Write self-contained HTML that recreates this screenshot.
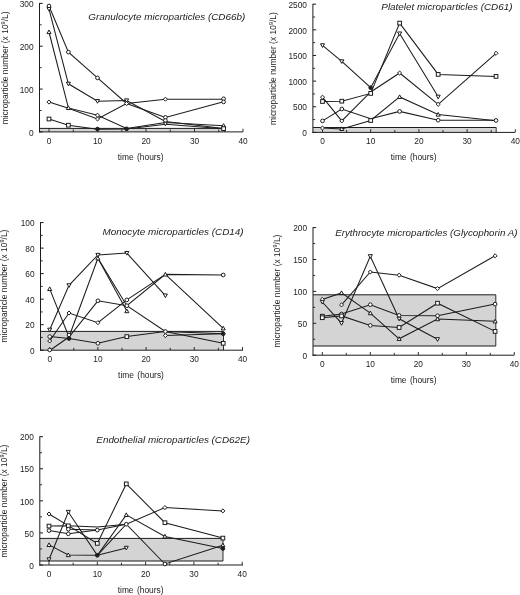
<!DOCTYPE html>
<html><head><meta charset="utf-8"><style>
html,body{margin:0;padding:0;background:#fff;}
body{width:520px;height:595px;overflow:hidden;}
svg{display:block;will-change:transform;filter:blur(0.35px);}
text{font-family:"Liberation Sans", sans-serif;fill:#222;-webkit-font-smoothing:antialiased;}
</style></head><body>
<svg width="520" height="595" viewBox="0 0 520 595">
<rect width="520" height="595" fill="#fff"/>
<rect x="39.50" y="128.40" width="185.10" height="3.50" fill="#d4d4d4" stroke="none"/>
<line x1="39.50" y1="128.40" x2="224.60" y2="128.40" stroke="#1c1c1c" stroke-width="1.0"/>
<line x1="224.60" y1="128.40" x2="224.60" y2="131.90" stroke="#1c1c1c" stroke-width="0.9"/>
<line x1="39.50" y1="3.00" x2="39.50" y2="132.40" stroke="#1c1c1c" stroke-width="1.0"/>
<line x1="39.00" y1="131.90" x2="243.00" y2="131.90" stroke="#1c1c1c" stroke-width="1.0"/>
<line x1="39.50" y1="131.90" x2="42.70" y2="131.90" stroke="#1c1c1c" stroke-width="1.0"/>
<text x="33.50" y="135.60" font-size="8.3" text-anchor="end" font-style="normal" >0</text>
<line x1="39.50" y1="89.07" x2="42.70" y2="89.07" stroke="#1c1c1c" stroke-width="1.0"/>
<text x="33.50" y="92.77" font-size="8.3" text-anchor="end" font-style="normal" >100</text>
<line x1="39.50" y1="46.23" x2="42.70" y2="46.23" stroke="#1c1c1c" stroke-width="1.0"/>
<text x="33.50" y="49.93" font-size="8.3" text-anchor="end" font-style="normal" >200</text>
<line x1="39.50" y1="3.40" x2="42.70" y2="3.40" stroke="#1c1c1c" stroke-width="1.0"/>
<text x="33.50" y="7.10" font-size="8.3" text-anchor="end" font-style="normal" >300</text>
<line x1="39.50" y1="110.48" x2="41.70" y2="110.48" stroke="#1c1c1c" stroke-width="0.9"/>
<line x1="39.50" y1="67.65" x2="41.70" y2="67.65" stroke="#1c1c1c" stroke-width="0.9"/>
<line x1="39.50" y1="24.82" x2="41.70" y2="24.82" stroke="#1c1c1c" stroke-width="0.9"/>
<line x1="49.00" y1="131.90" x2="49.00" y2="128.70" stroke="#1c1c1c" stroke-width="0.9"/>
<text x="49.00" y="143.80" font-size="8.3" text-anchor="middle" font-style="normal" >0</text>
<line x1="73.25" y1="131.90" x2="73.25" y2="129.50" stroke="#1c1c1c" stroke-width="0.9"/>
<line x1="97.50" y1="131.90" x2="97.50" y2="128.70" stroke="#1c1c1c" stroke-width="0.9"/>
<text x="97.50" y="143.80" font-size="8.3" text-anchor="middle" font-style="normal" >10</text>
<line x1="121.75" y1="131.90" x2="121.75" y2="129.50" stroke="#1c1c1c" stroke-width="0.9"/>
<line x1="146.00" y1="131.90" x2="146.00" y2="128.70" stroke="#1c1c1c" stroke-width="0.9"/>
<text x="146.00" y="143.80" font-size="8.3" text-anchor="middle" font-style="normal" >20</text>
<line x1="170.25" y1="131.90" x2="170.25" y2="129.50" stroke="#1c1c1c" stroke-width="0.9"/>
<line x1="194.50" y1="131.90" x2="194.50" y2="128.70" stroke="#1c1c1c" stroke-width="0.9"/>
<text x="194.50" y="143.80" font-size="8.3" text-anchor="middle" font-style="normal" >30</text>
<line x1="218.75" y1="131.90" x2="218.75" y2="129.50" stroke="#1c1c1c" stroke-width="0.9"/>
<line x1="243.00" y1="131.90" x2="243.00" y2="128.70" stroke="#1c1c1c" stroke-width="0.9"/>
<text x="243.00" y="143.80" font-size="8.3" text-anchor="middle" font-style="normal" >40</text>
<polyline points="49.00,6.00 68.40,52.10 97.50,77.90 126.60,103.50 165.40,117.40 223.60,101.80" fill="none" stroke="#1c1c1c" stroke-width="1.05"/>
<polyline points="49.00,9.10 68.40,83.80 97.50,101.20 126.60,100.50 165.40,121.40 223.60,128.50" fill="none" stroke="#1c1c1c" stroke-width="1.05"/>
<polyline points="49.00,32.00 68.40,107.90 97.50,115.20 126.60,128.50 165.40,122.50 223.60,125.70" fill="none" stroke="#1c1c1c" stroke-width="1.05"/>
<polyline points="49.00,102.10 68.40,108.30 97.50,119.00 126.60,103.50 165.40,99.20 223.60,99.20" fill="none" stroke="#1c1c1c" stroke-width="1.05"/>
<polyline points="49.00,119.00 68.40,125.20 97.50,129.20 126.60,129.00 165.40,124.20 223.60,128.80" fill="none" stroke="#1c1c1c" stroke-width="1.05"/>
<circle cx="49.00" cy="6.00" r="1.85" fill="#fff" stroke="#1c1c1c" stroke-width="1.0"/>
<path d="M49.00,11.13L51.03,7.47L46.97,7.47Z" fill="#fff" stroke="#1c1c1c" stroke-width="1.0"/>
<path d="M49.00,29.96L51.03,33.63L46.97,33.63Z" fill="#fff" stroke="#1c1c1c" stroke-width="1.0"/>
<path d="M49.00,100.06L51.03,102.10L49.00,104.13L46.97,102.10Z" fill="#fff" stroke="#1c1c1c" stroke-width="1.0"/>
<rect x="47.15" y="117.15" width="3.7" height="3.7" fill="#fff" stroke="#1c1c1c" stroke-width="1.0"/>
<circle cx="68.40" cy="52.10" r="1.85" fill="#fff" stroke="#1c1c1c" stroke-width="1.0"/>
<path d="M68.40,85.83L70.44,82.17L66.37,82.17Z" fill="#fff" stroke="#1c1c1c" stroke-width="1.0"/>
<path d="M68.40,105.87L70.44,109.53L66.37,109.53Z" fill="#fff" stroke="#1c1c1c" stroke-width="1.0"/>
<rect x="66.55" y="123.35" width="3.7" height="3.7" fill="#fff" stroke="#1c1c1c" stroke-width="1.0"/>
<circle cx="97.50" cy="77.90" r="1.85" fill="#fff" stroke="#1c1c1c" stroke-width="1.0"/>
<path d="M97.50,103.23L99.53,99.57L95.47,99.57Z" fill="#fff" stroke="#1c1c1c" stroke-width="1.0"/>
<path d="M97.50,113.17L99.53,115.20L97.50,117.23L95.47,115.20Z" fill="#fff" stroke="#1c1c1c" stroke-width="1.0"/>
<path d="M97.50,116.97L99.53,119.00L97.50,121.03L95.47,119.00Z" fill="#fff" stroke="#1c1c1c" stroke-width="1.0"/>
<circle cx="97.50" cy="129.00" r="1.85" fill="#1c1c1c" stroke="#1c1c1c" stroke-width="1.0"/>
<path d="M126.60,102.53L128.63,98.87L124.56,98.87Z" fill="#fff" stroke="#1c1c1c" stroke-width="1.0"/>
<path d="M126.60,101.47L128.63,103.50L126.60,105.53L124.56,103.50Z" fill="#fff" stroke="#1c1c1c" stroke-width="1.0"/>
<circle cx="126.60" cy="128.80" r="1.85" fill="#1c1c1c" stroke="#1c1c1c" stroke-width="1.0"/>
<path d="M165.40,97.17L167.43,99.20L165.40,101.23L163.36,99.20Z" fill="#fff" stroke="#1c1c1c" stroke-width="1.0"/>
<circle cx="165.40" cy="117.40" r="1.85" fill="#fff" stroke="#1c1c1c" stroke-width="1.0"/>
<circle cx="165.40" cy="120.50" r="1.85" fill="#fff" stroke="#1c1c1c" stroke-width="1.0"/>
<path d="M165.40,125.83L167.43,122.17L163.36,122.17Z" fill="#fff" stroke="#1c1c1c" stroke-width="1.0"/>
<circle cx="223.60" cy="98.80" r="1.85" fill="#fff" stroke="#1c1c1c" stroke-width="1.0"/>
<circle cx="223.60" cy="101.90" r="1.85" fill="#fff" stroke="#1c1c1c" stroke-width="1.0"/>
<path d="M223.60,123.67L225.63,127.33L221.56,127.33Z" fill="#fff" stroke="#1c1c1c" stroke-width="1.0"/>
<rect x="221.75" y="126.75" width="3.7" height="3.7" fill="#fff" stroke="#1c1c1c" stroke-width="1.0"/>
<text x="88.30" y="20.00" font-size="9.9" text-anchor="start" font-style="italic" >Granulocyte microparticles (CD66b)</text>
<text x="140.70" y="159.80" font-size="8.4" text-anchor="middle" font-style="normal" word-spacing="1.1">time (hours)</text>
<text transform="translate(7.50,67.90) rotate(-90)" font-size="8.45" text-anchor="middle">microparticle number (x 10<tspan font-size="5.5" dy="-3">9</tspan><tspan dy="3">/L)</tspan></text>
<rect x="312.90" y="127.50" width="183.30" height="4.90" fill="#d4d4d4" stroke="none"/>
<line x1="312.90" y1="127.50" x2="496.20" y2="127.50" stroke="#1c1c1c" stroke-width="1.0"/>
<line x1="496.20" y1="127.50" x2="496.20" y2="132.40" stroke="#1c1c1c" stroke-width="0.9"/>
<line x1="312.90" y1="3.80" x2="312.90" y2="132.90" stroke="#1c1c1c" stroke-width="1.0"/>
<line x1="312.40" y1="132.40" x2="515.00" y2="132.40" stroke="#1c1c1c" stroke-width="1.0"/>
<line x1="312.90" y1="132.40" x2="316.10" y2="132.40" stroke="#1c1c1c" stroke-width="1.0"/>
<text x="306.90" y="136.10" font-size="8.3" text-anchor="end" font-style="normal" >0</text>
<line x1="312.90" y1="106.76" x2="316.10" y2="106.76" stroke="#1c1c1c" stroke-width="1.0"/>
<text x="306.90" y="110.46" font-size="8.3" text-anchor="end" font-style="normal" >500</text>
<line x1="312.90" y1="81.12" x2="316.10" y2="81.12" stroke="#1c1c1c" stroke-width="1.0"/>
<text x="306.90" y="84.82" font-size="8.3" text-anchor="end" font-style="normal" >1000</text>
<line x1="312.90" y1="55.48" x2="316.10" y2="55.48" stroke="#1c1c1c" stroke-width="1.0"/>
<text x="306.90" y="59.18" font-size="8.3" text-anchor="end" font-style="normal" >1500</text>
<line x1="312.90" y1="29.84" x2="316.10" y2="29.84" stroke="#1c1c1c" stroke-width="1.0"/>
<text x="306.90" y="33.54" font-size="8.3" text-anchor="end" font-style="normal" >2000</text>
<line x1="312.90" y1="4.20" x2="316.10" y2="4.20" stroke="#1c1c1c" stroke-width="1.0"/>
<text x="306.90" y="7.90" font-size="8.3" text-anchor="end" font-style="normal" >2500</text>
<line x1="312.90" y1="119.58" x2="315.10" y2="119.58" stroke="#1c1c1c" stroke-width="0.9"/>
<line x1="312.90" y1="93.94" x2="315.10" y2="93.94" stroke="#1c1c1c" stroke-width="0.9"/>
<line x1="312.90" y1="68.30" x2="315.10" y2="68.30" stroke="#1c1c1c" stroke-width="0.9"/>
<line x1="312.90" y1="42.66" x2="315.10" y2="42.66" stroke="#1c1c1c" stroke-width="0.9"/>
<line x1="312.90" y1="17.02" x2="315.10" y2="17.02" stroke="#1c1c1c" stroke-width="0.9"/>
<line x1="322.50" y1="132.40" x2="322.50" y2="129.20" stroke="#1c1c1c" stroke-width="0.9"/>
<text x="322.50" y="144.30" font-size="8.3" text-anchor="middle" font-style="normal" >0</text>
<line x1="346.60" y1="132.40" x2="346.60" y2="130.00" stroke="#1c1c1c" stroke-width="0.9"/>
<line x1="370.70" y1="132.40" x2="370.70" y2="129.20" stroke="#1c1c1c" stroke-width="0.9"/>
<text x="370.70" y="144.30" font-size="8.3" text-anchor="middle" font-style="normal" >10</text>
<line x1="394.80" y1="132.40" x2="394.80" y2="130.00" stroke="#1c1c1c" stroke-width="0.9"/>
<line x1="418.90" y1="132.40" x2="418.90" y2="129.20" stroke="#1c1c1c" stroke-width="0.9"/>
<text x="418.90" y="144.30" font-size="8.3" text-anchor="middle" font-style="normal" >20</text>
<line x1="443.00" y1="132.40" x2="443.00" y2="130.00" stroke="#1c1c1c" stroke-width="0.9"/>
<line x1="467.10" y1="132.40" x2="467.10" y2="129.20" stroke="#1c1c1c" stroke-width="0.9"/>
<text x="467.10" y="144.30" font-size="8.3" text-anchor="middle" font-style="normal" >30</text>
<line x1="491.20" y1="132.40" x2="491.20" y2="130.00" stroke="#1c1c1c" stroke-width="0.9"/>
<line x1="515.30" y1="132.40" x2="515.30" y2="129.20" stroke="#1c1c1c" stroke-width="0.9"/>
<text x="515.30" y="144.30" font-size="8.3" text-anchor="middle" font-style="normal" >40</text>
<polyline points="322.50,45.40 341.78,61.40 370.70,87.70 399.62,33.60 438.18,96.80" fill="none" stroke="#1c1c1c" stroke-width="1.05"/>
<polyline points="322.50,101.50 341.78,101.20 370.70,93.40 399.62,23.10 438.18,74.40 496.02,76.40" fill="none" stroke="#1c1c1c" stroke-width="1.05"/>
<polyline points="322.50,97.20 341.78,120.90 370.70,92.00 399.62,73.00 438.18,104.30 496.02,53.30" fill="none" stroke="#1c1c1c" stroke-width="1.05"/>
<polyline points="322.50,120.90 341.78,109.00 370.70,118.80 399.62,111.40 438.18,120.20 496.02,120.20" fill="none" stroke="#1c1c1c" stroke-width="1.05"/>
<polyline points="322.50,128.00 341.78,128.90 370.70,120.50 399.62,96.90 438.18,114.50 496.02,120.80" fill="none" stroke="#1c1c1c" stroke-width="1.05"/>
<path d="M322.50,47.44L324.54,43.77L320.46,43.77Z" fill="#fff" stroke="#1c1c1c" stroke-width="1.0"/>
<rect x="320.65" y="99.65" width="3.7" height="3.7" fill="#fff" stroke="#1c1c1c" stroke-width="1.0"/>
<path d="M322.50,95.17L324.54,97.20L322.50,99.23L320.46,97.20Z" fill="#fff" stroke="#1c1c1c" stroke-width="1.0"/>
<circle cx="322.50" cy="120.90" r="1.85" fill="#fff" stroke="#1c1c1c" stroke-width="1.0"/>
<path d="M322.50,125.97L324.54,128.00L322.50,130.03L320.46,128.00Z" fill="#fff" stroke="#1c1c1c" stroke-width="1.0"/>
<path d="M341.78,63.44L343.81,59.77L339.74,59.77Z" fill="#fff" stroke="#1c1c1c" stroke-width="1.0"/>
<rect x="339.93" y="99.35" width="3.7" height="3.7" fill="#fff" stroke="#1c1c1c" stroke-width="1.0"/>
<circle cx="341.78" cy="109.00" r="1.85" fill="#fff" stroke="#1c1c1c" stroke-width="1.0"/>
<path d="M341.78,118.87L343.81,120.90L341.78,122.94L339.74,120.90Z" fill="#fff" stroke="#1c1c1c" stroke-width="1.0"/>
<path d="M341.78,126.87L343.81,130.53L339.74,130.53Z" fill="#fff" stroke="#1c1c1c" stroke-width="1.0"/>
<circle cx="370.70" cy="87.70" r="1.85" fill="#1c1c1c" stroke="#1c1c1c" stroke-width="1.0"/>
<rect x="368.85" y="91.55" width="3.7" height="3.7" fill="#fff" stroke="#1c1c1c" stroke-width="1.0"/>
<rect x="368.85" y="118.65" width="3.7" height="3.7" fill="#fff" stroke="#1c1c1c" stroke-width="1.0"/>
<rect x="397.77" y="21.25" width="3.7" height="3.7" fill="#fff" stroke="#1c1c1c" stroke-width="1.0"/>
<path d="M399.62,35.64L401.66,31.97L397.58,31.97Z" fill="#fff" stroke="#1c1c1c" stroke-width="1.0"/>
<path d="M399.62,70.97L401.66,73.00L399.62,75.03L397.58,73.00Z" fill="#fff" stroke="#1c1c1c" stroke-width="1.0"/>
<path d="M399.62,94.87L401.66,98.53L397.58,98.53Z" fill="#fff" stroke="#1c1c1c" stroke-width="1.0"/>
<circle cx="399.62" cy="111.40" r="1.85" fill="#fff" stroke="#1c1c1c" stroke-width="1.0"/>
<rect x="436.33" y="72.55" width="3.7" height="3.7" fill="#fff" stroke="#1c1c1c" stroke-width="1.0"/>
<path d="M438.18,98.83L440.22,95.17L436.14,95.17Z" fill="#fff" stroke="#1c1c1c" stroke-width="1.0"/>
<path d="M438.18,102.27L440.22,104.30L438.18,106.33L436.14,104.30Z" fill="#fff" stroke="#1c1c1c" stroke-width="1.0"/>
<path d="M438.18,112.47L440.22,116.13L436.14,116.13Z" fill="#fff" stroke="#1c1c1c" stroke-width="1.0"/>
<circle cx="438.18" cy="120.20" r="1.85" fill="#fff" stroke="#1c1c1c" stroke-width="1.0"/>
<path d="M496.02,51.27L498.06,53.30L496.02,55.33L493.98,53.30Z" fill="#fff" stroke="#1c1c1c" stroke-width="1.0"/>
<rect x="494.17" y="74.55" width="3.7" height="3.7" fill="#fff" stroke="#1c1c1c" stroke-width="1.0"/>
<circle cx="496.02" cy="120.50" r="1.85" fill="#fff" stroke="#1c1c1c" stroke-width="1.0"/>
<text x="381.30" y="10.40" font-size="9.9" text-anchor="start" font-style="italic" >Platelet microparticles (CD61)</text>
<text x="413.60" y="159.80" font-size="8.4" text-anchor="middle" font-style="normal" word-spacing="1.1">time (hours)</text>
<text transform="translate(275.70,68.60) rotate(-90)" font-size="8.45" text-anchor="middle">microparticle number (x 10<tspan font-size="5.5" dy="-3">9</tspan><tspan dy="3">/L)</tspan></text>
<rect x="40.50" y="331.40" width="183.00" height="18.80" fill="#d4d4d4" stroke="none"/>
<line x1="40.50" y1="331.40" x2="223.50" y2="331.40" stroke="#1c1c1c" stroke-width="1.0"/>
<line x1="223.50" y1="331.40" x2="223.50" y2="350.20" stroke="#1c1c1c" stroke-width="0.9"/>
<line x1="40.50" y1="222.20" x2="40.50" y2="350.70" stroke="#1c1c1c" stroke-width="1.0"/>
<line x1="40.00" y1="350.20" x2="243.00" y2="350.20" stroke="#1c1c1c" stroke-width="1.0"/>
<line x1="40.50" y1="350.20" x2="43.70" y2="350.20" stroke="#1c1c1c" stroke-width="1.0"/>
<text x="34.50" y="353.90" font-size="8.3" text-anchor="end" font-style="normal" >0</text>
<line x1="40.50" y1="324.68" x2="43.70" y2="324.68" stroke="#1c1c1c" stroke-width="1.0"/>
<text x="34.50" y="328.38" font-size="8.3" text-anchor="end" font-style="normal" >20</text>
<line x1="40.50" y1="299.16" x2="43.70" y2="299.16" stroke="#1c1c1c" stroke-width="1.0"/>
<text x="34.50" y="302.86" font-size="8.3" text-anchor="end" font-style="normal" >40</text>
<line x1="40.50" y1="273.64" x2="43.70" y2="273.64" stroke="#1c1c1c" stroke-width="1.0"/>
<text x="34.50" y="277.34" font-size="8.3" text-anchor="end" font-style="normal" >60</text>
<line x1="40.50" y1="248.12" x2="43.70" y2="248.12" stroke="#1c1c1c" stroke-width="1.0"/>
<text x="34.50" y="251.82" font-size="8.3" text-anchor="end" font-style="normal" >80</text>
<line x1="40.50" y1="222.60" x2="43.70" y2="222.60" stroke="#1c1c1c" stroke-width="1.0"/>
<text x="34.50" y="226.30" font-size="8.3" text-anchor="end" font-style="normal" >100</text>
<line x1="40.50" y1="337.44" x2="42.70" y2="337.44" stroke="#1c1c1c" stroke-width="0.9"/>
<line x1="40.50" y1="311.92" x2="42.70" y2="311.92" stroke="#1c1c1c" stroke-width="0.9"/>
<line x1="40.50" y1="286.40" x2="42.70" y2="286.40" stroke="#1c1c1c" stroke-width="0.9"/>
<line x1="40.50" y1="260.88" x2="42.70" y2="260.88" stroke="#1c1c1c" stroke-width="0.9"/>
<line x1="40.50" y1="235.36" x2="42.70" y2="235.36" stroke="#1c1c1c" stroke-width="0.9"/>
<line x1="49.70" y1="350.20" x2="49.70" y2="347.00" stroke="#1c1c1c" stroke-width="0.9"/>
<text x="49.70" y="362.10" font-size="8.3" text-anchor="middle" font-style="normal" >0</text>
<line x1="73.80" y1="350.20" x2="73.80" y2="347.80" stroke="#1c1c1c" stroke-width="0.9"/>
<line x1="97.90" y1="350.20" x2="97.90" y2="347.00" stroke="#1c1c1c" stroke-width="0.9"/>
<text x="97.90" y="362.10" font-size="8.3" text-anchor="middle" font-style="normal" >10</text>
<line x1="122.00" y1="350.20" x2="122.00" y2="347.80" stroke="#1c1c1c" stroke-width="0.9"/>
<line x1="146.10" y1="350.20" x2="146.10" y2="347.00" stroke="#1c1c1c" stroke-width="0.9"/>
<text x="146.10" y="362.10" font-size="8.3" text-anchor="middle" font-style="normal" >20</text>
<line x1="170.20" y1="350.20" x2="170.20" y2="347.80" stroke="#1c1c1c" stroke-width="0.9"/>
<line x1="194.30" y1="350.20" x2="194.30" y2="347.00" stroke="#1c1c1c" stroke-width="0.9"/>
<text x="194.30" y="362.10" font-size="8.3" text-anchor="middle" font-style="normal" >30</text>
<line x1="218.40" y1="350.20" x2="218.40" y2="347.80" stroke="#1c1c1c" stroke-width="0.9"/>
<line x1="242.50" y1="350.20" x2="242.50" y2="347.00" stroke="#1c1c1c" stroke-width="0.9"/>
<text x="242.50" y="362.10" font-size="8.3" text-anchor="middle" font-style="normal" >40</text>
<polyline points="49.70,288.90 68.98,337.00 97.90,258.30 126.82,305.70 165.38,331.50 223.22,343.30" fill="none" stroke="#1c1c1c" stroke-width="1.05"/>
<polyline points="49.70,329.80 68.98,285.40 97.90,255.00 126.82,253.10 165.38,295.60" fill="none" stroke="#1c1c1c" stroke-width="1.05"/>
<polyline points="49.70,350.50 68.98,337.00 97.90,300.80 126.82,305.70 165.38,274.40 223.22,275.00" fill="none" stroke="#1c1c1c" stroke-width="1.05"/>
<polyline points="49.70,341.00 68.98,313.00 97.90,322.70 126.82,299.90 165.38,274.40 223.22,328.30" fill="none" stroke="#1c1c1c" stroke-width="1.05"/>
<polyline points="49.70,336.60 68.98,338.50 97.90,343.30 126.82,336.60 165.38,331.50 223.22,333.70" fill="none" stroke="#1c1c1c" stroke-width="1.05"/>
<polyline points="97.90,258.30 126.82,311.10" fill="none" stroke="#1c1c1c" stroke-width="1.05"/>
<polyline points="165.38,335.60 223.22,333.70" fill="none" stroke="#1c1c1c" stroke-width="1.05"/>
<path d="M49.70,286.86L51.73,290.53L47.67,290.53Z" fill="#fff" stroke="#1c1c1c" stroke-width="1.0"/>
<path d="M49.70,331.84L51.73,328.17L47.67,328.17Z" fill="#fff" stroke="#1c1c1c" stroke-width="1.0"/>
<circle cx="49.70" cy="336.60" r="1.85" fill="#fff" stroke="#1c1c1c" stroke-width="1.0"/>
<path d="M49.70,338.96L51.73,341.00L49.70,343.04L47.67,341.00Z" fill="#fff" stroke="#1c1c1c" stroke-width="1.0"/>
<circle cx="49.70" cy="350.00" r="1.85" fill="#fff" stroke="#1c1c1c" stroke-width="1.0"/>
<path d="M68.98,287.44L71.02,283.77L66.95,283.77Z" fill="#fff" stroke="#1c1c1c" stroke-width="1.0"/>
<path d="M68.98,310.96L71.02,313.00L68.98,315.04L66.95,313.00Z" fill="#fff" stroke="#1c1c1c" stroke-width="1.0"/>
<circle cx="68.98" cy="335.00" r="1.85" fill="#fff" stroke="#1c1c1c" stroke-width="1.0"/>
<circle cx="68.98" cy="338.50" r="1.85" fill="#1c1c1c" stroke="#1c1c1c" stroke-width="1.0"/>
<path d="M97.90,257.04L99.94,253.37L95.87,253.37Z" fill="#fff" stroke="#1c1c1c" stroke-width="1.0"/>
<path d="M97.90,256.26L99.94,259.93L95.87,259.93Z" fill="#fff" stroke="#1c1c1c" stroke-width="1.0"/>
<circle cx="97.90" cy="300.80" r="1.85" fill="#fff" stroke="#1c1c1c" stroke-width="1.0"/>
<path d="M97.90,320.66L99.94,322.70L97.90,324.74L95.87,322.70Z" fill="#fff" stroke="#1c1c1c" stroke-width="1.0"/>
<circle cx="97.90" cy="343.30" r="1.85" fill="#fff" stroke="#1c1c1c" stroke-width="1.0"/>
<path d="M126.82,255.13L128.86,251.47L124.79,251.47Z" fill="#fff" stroke="#1c1c1c" stroke-width="1.0"/>
<circle cx="126.82" cy="299.90" r="1.85" fill="#fff" stroke="#1c1c1c" stroke-width="1.0"/>
<circle cx="126.82" cy="305.70" r="1.85" fill="#fff" stroke="#1c1c1c" stroke-width="1.0"/>
<path d="M126.82,309.06L128.86,312.73L124.79,312.73Z" fill="#fff" stroke="#1c1c1c" stroke-width="1.0"/>
<rect x="124.97" y="334.75" width="3.7" height="3.7" fill="#fff" stroke="#1c1c1c" stroke-width="1.0"/>
<path d="M165.38,272.36L167.41,276.03L163.34,276.03Z" fill="#fff" stroke="#1c1c1c" stroke-width="1.0"/>
<path d="M165.38,297.64L167.41,293.97L163.34,293.97Z" fill="#fff" stroke="#1c1c1c" stroke-width="1.0"/>
<circle cx="165.38" cy="331.50" r="1.85" fill="#fff" stroke="#1c1c1c" stroke-width="1.0"/>
<path d="M165.38,333.56L167.41,335.60L165.38,337.64L163.34,335.60Z" fill="#fff" stroke="#1c1c1c" stroke-width="1.0"/>
<circle cx="223.22" cy="275.00" r="1.85" fill="#fff" stroke="#1c1c1c" stroke-width="1.0"/>
<path d="M223.22,326.26L225.26,329.93L221.19,329.93Z" fill="#fff" stroke="#1c1c1c" stroke-width="1.0"/>
<circle cx="223.22" cy="333.70" r="1.85" fill="#1c1c1c" stroke="#1c1c1c" stroke-width="1.0"/>
<rect x="221.37" y="341.45" width="3.7" height="3.7" fill="#fff" stroke="#1c1c1c" stroke-width="1.0"/>
<text x="102.50" y="234.80" font-size="9.9" text-anchor="start" font-style="italic" >Monocyte microparticles (CD14)</text>
<text x="141.00" y="377.80" font-size="8.4" text-anchor="middle" font-style="normal" word-spacing="1.1">time (hours)</text>
<text transform="translate(6.90,286.00) rotate(-90)" font-size="8.45" text-anchor="middle">microparticle number (x 10<tspan font-size="5.5" dy="-3">9</tspan><tspan dy="3">/L)</tspan></text>
<rect x="313.00" y="294.80" width="182.80" height="51.20" fill="#d4d4d4" stroke="none"/>
<line x1="313.00" y1="294.80" x2="495.80" y2="294.80" stroke="#1c1c1c" stroke-width="1.0"/>
<line x1="313.00" y1="346.00" x2="495.80" y2="346.00" stroke="#1c1c1c" stroke-width="1.0"/>
<line x1="495.80" y1="294.80" x2="495.80" y2="346.00" stroke="#1c1c1c" stroke-width="0.9"/>
<line x1="313.00" y1="227.20" x2="313.00" y2="355.70" stroke="#1c1c1c" stroke-width="1.0"/>
<line x1="312.50" y1="355.20" x2="514.00" y2="355.20" stroke="#1c1c1c" stroke-width="1.0"/>
<line x1="313.00" y1="355.20" x2="316.20" y2="355.20" stroke="#1c1c1c" stroke-width="1.0"/>
<text x="307.00" y="358.90" font-size="8.3" text-anchor="end" font-style="normal" >0</text>
<line x1="313.00" y1="323.30" x2="316.20" y2="323.30" stroke="#1c1c1c" stroke-width="1.0"/>
<text x="307.00" y="327.00" font-size="8.3" text-anchor="end" font-style="normal" >50</text>
<line x1="313.00" y1="291.40" x2="316.20" y2="291.40" stroke="#1c1c1c" stroke-width="1.0"/>
<text x="307.00" y="295.10" font-size="8.3" text-anchor="end" font-style="normal" >100</text>
<line x1="313.00" y1="259.50" x2="316.20" y2="259.50" stroke="#1c1c1c" stroke-width="1.0"/>
<text x="307.00" y="263.20" font-size="8.3" text-anchor="end" font-style="normal" >150</text>
<line x1="313.00" y1="227.60" x2="316.20" y2="227.60" stroke="#1c1c1c" stroke-width="1.0"/>
<text x="307.00" y="231.30" font-size="8.3" text-anchor="end" font-style="normal" >200</text>
<line x1="313.00" y1="339.25" x2="315.20" y2="339.25" stroke="#1c1c1c" stroke-width="0.9"/>
<line x1="313.00" y1="307.35" x2="315.20" y2="307.35" stroke="#1c1c1c" stroke-width="0.9"/>
<line x1="313.00" y1="275.45" x2="315.20" y2="275.45" stroke="#1c1c1c" stroke-width="0.9"/>
<line x1="313.00" y1="243.55" x2="315.20" y2="243.55" stroke="#1c1c1c" stroke-width="0.9"/>
<line x1="322.30" y1="355.20" x2="322.30" y2="352.00" stroke="#1c1c1c" stroke-width="0.9"/>
<text x="322.30" y="367.10" font-size="8.3" text-anchor="middle" font-style="normal" >0</text>
<line x1="346.30" y1="355.20" x2="346.30" y2="352.80" stroke="#1c1c1c" stroke-width="0.9"/>
<line x1="370.30" y1="355.20" x2="370.30" y2="352.00" stroke="#1c1c1c" stroke-width="0.9"/>
<text x="370.30" y="367.10" font-size="8.3" text-anchor="middle" font-style="normal" >10</text>
<line x1="394.30" y1="355.20" x2="394.30" y2="352.80" stroke="#1c1c1c" stroke-width="0.9"/>
<line x1="418.30" y1="355.20" x2="418.30" y2="352.00" stroke="#1c1c1c" stroke-width="0.9"/>
<text x="418.30" y="367.10" font-size="8.3" text-anchor="middle" font-style="normal" >20</text>
<line x1="442.30" y1="355.20" x2="442.30" y2="352.80" stroke="#1c1c1c" stroke-width="0.9"/>
<line x1="466.30" y1="355.20" x2="466.30" y2="352.00" stroke="#1c1c1c" stroke-width="0.9"/>
<text x="466.30" y="367.10" font-size="8.3" text-anchor="middle" font-style="normal" >30</text>
<line x1="490.30" y1="355.20" x2="490.30" y2="352.80" stroke="#1c1c1c" stroke-width="0.9"/>
<line x1="514.30" y1="355.20" x2="514.30" y2="352.00" stroke="#1c1c1c" stroke-width="0.9"/>
<text x="514.30" y="367.10" font-size="8.3" text-anchor="middle" font-style="normal" >40</text>
<polyline points="322.30,299.40 341.50,292.90 370.30,313.10 399.10,338.80 437.50,319.10 495.10,321.30" fill="none" stroke="#1c1c1c" stroke-width="1.05"/>
<polyline points="322.30,302.00 341.50,323.20 370.30,256.30 399.10,318.80 437.50,339.30" fill="none" stroke="#1c1c1c" stroke-width="1.05"/>
<polyline points="322.30,316.20 341.50,314.00 370.30,304.70 399.10,315.40 437.50,315.80 495.10,304.10" fill="none" stroke="#1c1c1c" stroke-width="1.05"/>
<polyline points="322.30,317.70 341.50,315.90 370.30,325.40 399.10,327.50 437.50,303.20 495.10,331.40" fill="none" stroke="#1c1c1c" stroke-width="1.05"/>
<polyline points="341.50,304.90 370.30,272.00 399.10,275.20 437.50,288.60 495.10,255.80" fill="none" stroke="#1c1c1c" stroke-width="1.05"/>
<path d="M322.30,297.36L324.34,299.40L322.30,301.44L320.26,299.40Z" fill="#fff" stroke="#1c1c1c" stroke-width="1.0"/>
<path d="M322.30,304.04L324.34,300.37L320.26,300.37Z" fill="#fff" stroke="#1c1c1c" stroke-width="1.0"/>
<rect x="320.45" y="314.35" width="3.7" height="3.7" fill="#fff" stroke="#1c1c1c" stroke-width="1.0"/>
<rect x="320.45" y="315.85" width="3.7" height="3.7" fill="#fff" stroke="#1c1c1c" stroke-width="1.0"/>
<path d="M341.50,290.86L343.54,294.53L339.46,294.53Z" fill="#fff" stroke="#1c1c1c" stroke-width="1.0"/>
<path d="M341.50,302.86L343.54,304.90L341.50,306.94L339.46,304.90Z" fill="#fff" stroke="#1c1c1c" stroke-width="1.0"/>
<circle cx="341.50" cy="314.00" r="1.85" fill="#fff" stroke="#1c1c1c" stroke-width="1.0"/>
<rect x="339.65" y="314.05" width="3.7" height="3.7" fill="#fff" stroke="#1c1c1c" stroke-width="1.0"/>
<path d="M341.50,325.24L343.54,321.57L339.46,321.57Z" fill="#fff" stroke="#1c1c1c" stroke-width="1.0"/>
<path d="M370.30,258.34L372.34,254.67L368.26,254.67Z" fill="#fff" stroke="#1c1c1c" stroke-width="1.0"/>
<path d="M370.30,269.96L372.34,272.00L370.30,274.04L368.26,272.00Z" fill="#fff" stroke="#1c1c1c" stroke-width="1.0"/>
<circle cx="370.30" cy="304.70" r="1.85" fill="#fff" stroke="#1c1c1c" stroke-width="1.0"/>
<path d="M370.30,311.06L372.34,314.73L368.26,314.73Z" fill="#fff" stroke="#1c1c1c" stroke-width="1.0"/>
<circle cx="370.30" cy="325.40" r="1.85" fill="#fff" stroke="#1c1c1c" stroke-width="1.0"/>
<path d="M399.10,273.16L401.14,275.20L399.10,277.24L397.06,275.20Z" fill="#fff" stroke="#1c1c1c" stroke-width="1.0"/>
<circle cx="399.10" cy="315.40" r="1.85" fill="#fff" stroke="#1c1c1c" stroke-width="1.0"/>
<path d="M399.10,320.84L401.14,317.17L397.06,317.17Z" fill="#fff" stroke="#1c1c1c" stroke-width="1.0"/>
<rect x="397.25" y="325.65" width="3.7" height="3.7" fill="#fff" stroke="#1c1c1c" stroke-width="1.0"/>
<path d="M399.10,336.76L401.14,340.43L397.06,340.43Z" fill="#fff" stroke="#1c1c1c" stroke-width="1.0"/>
<path d="M437.50,286.56L439.54,288.60L437.50,290.64L435.46,288.60Z" fill="#fff" stroke="#1c1c1c" stroke-width="1.0"/>
<rect x="435.65" y="301.35" width="3.7" height="3.7" fill="#fff" stroke="#1c1c1c" stroke-width="1.0"/>
<circle cx="437.50" cy="315.80" r="1.85" fill="#fff" stroke="#1c1c1c" stroke-width="1.0"/>
<path d="M437.50,317.06L439.54,320.73L435.46,320.73Z" fill="#fff" stroke="#1c1c1c" stroke-width="1.0"/>
<path d="M437.50,341.34L439.54,337.67L435.46,337.67Z" fill="#fff" stroke="#1c1c1c" stroke-width="1.0"/>
<path d="M495.10,253.77L497.14,255.80L495.10,257.84L493.06,255.80Z" fill="#fff" stroke="#1c1c1c" stroke-width="1.0"/>
<circle cx="495.10" cy="304.10" r="1.85" fill="#fff" stroke="#1c1c1c" stroke-width="1.0"/>
<path d="M495.10,319.26L497.14,322.93L493.06,322.93Z" fill="#fff" stroke="#1c1c1c" stroke-width="1.0"/>
<rect x="493.25" y="329.55" width="3.7" height="3.7" fill="#fff" stroke="#1c1c1c" stroke-width="1.0"/>
<text x="335.20" y="236.40" font-size="9.75" text-anchor="start" font-style="italic" >Erythrocyte microparticles (Glycophorin A)</text>
<text x="413.60" y="383.20" font-size="8.4" text-anchor="middle" font-style="normal" word-spacing="1.1">time (hours)</text>
<text transform="translate(280.40,291.00) rotate(-90)" font-size="8.45" text-anchor="middle">microparticle number (x 10<tspan font-size="5.5" dy="-3">9</tspan><tspan dy="3">/L)</tspan></text>
<rect x="39.80" y="538.40" width="183.20" height="22.60" fill="#d4d4d4" stroke="none"/>
<line x1="39.80" y1="538.40" x2="223.00" y2="538.40" stroke="#1c1c1c" stroke-width="1.0"/>
<line x1="39.80" y1="561.00" x2="223.00" y2="561.00" stroke="#1c1c1c" stroke-width="1.0"/>
<line x1="223.00" y1="538.40" x2="223.00" y2="561.00" stroke="#1c1c1c" stroke-width="0.9"/>
<line x1="39.80" y1="436.30" x2="39.80" y2="565.50" stroke="#1c1c1c" stroke-width="1.0"/>
<line x1="39.30" y1="565.00" x2="243.00" y2="565.00" stroke="#1c1c1c" stroke-width="1.0"/>
<line x1="39.80" y1="565.00" x2="43.00" y2="565.00" stroke="#1c1c1c" stroke-width="1.0"/>
<text x="33.80" y="568.70" font-size="8.3" text-anchor="end" font-style="normal" >0</text>
<line x1="39.80" y1="532.92" x2="43.00" y2="532.92" stroke="#1c1c1c" stroke-width="1.0"/>
<text x="33.80" y="536.62" font-size="8.3" text-anchor="end" font-style="normal" >50</text>
<line x1="39.80" y1="500.85" x2="43.00" y2="500.85" stroke="#1c1c1c" stroke-width="1.0"/>
<text x="33.80" y="504.55" font-size="8.3" text-anchor="end" font-style="normal" >100</text>
<line x1="39.80" y1="468.77" x2="43.00" y2="468.77" stroke="#1c1c1c" stroke-width="1.0"/>
<text x="33.80" y="472.47" font-size="8.3" text-anchor="end" font-style="normal" >150</text>
<line x1="39.80" y1="436.70" x2="43.00" y2="436.70" stroke="#1c1c1c" stroke-width="1.0"/>
<text x="33.80" y="440.40" font-size="8.3" text-anchor="end" font-style="normal" >200</text>
<line x1="39.80" y1="548.96" x2="42.00" y2="548.96" stroke="#1c1c1c" stroke-width="0.9"/>
<line x1="39.80" y1="516.89" x2="42.00" y2="516.89" stroke="#1c1c1c" stroke-width="0.9"/>
<line x1="39.80" y1="484.81" x2="42.00" y2="484.81" stroke="#1c1c1c" stroke-width="0.9"/>
<line x1="39.80" y1="452.74" x2="42.00" y2="452.74" stroke="#1c1c1c" stroke-width="0.9"/>
<line x1="49.00" y1="565.00" x2="49.00" y2="561.80" stroke="#1c1c1c" stroke-width="0.9"/>
<text x="49.00" y="576.90" font-size="8.3" text-anchor="middle" font-style="normal" >0</text>
<line x1="73.15" y1="565.00" x2="73.15" y2="562.60" stroke="#1c1c1c" stroke-width="0.9"/>
<line x1="97.30" y1="565.00" x2="97.30" y2="561.80" stroke="#1c1c1c" stroke-width="0.9"/>
<text x="97.30" y="576.90" font-size="8.3" text-anchor="middle" font-style="normal" >10</text>
<line x1="121.45" y1="565.00" x2="121.45" y2="562.60" stroke="#1c1c1c" stroke-width="0.9"/>
<line x1="145.60" y1="565.00" x2="145.60" y2="561.80" stroke="#1c1c1c" stroke-width="0.9"/>
<text x="145.60" y="576.90" font-size="8.3" text-anchor="middle" font-style="normal" >20</text>
<line x1="169.75" y1="565.00" x2="169.75" y2="562.60" stroke="#1c1c1c" stroke-width="0.9"/>
<line x1="193.90" y1="565.00" x2="193.90" y2="561.80" stroke="#1c1c1c" stroke-width="0.9"/>
<text x="193.90" y="576.90" font-size="8.3" text-anchor="middle" font-style="normal" >30</text>
<line x1="218.05" y1="565.00" x2="218.05" y2="562.60" stroke="#1c1c1c" stroke-width="0.9"/>
<line x1="242.20" y1="565.00" x2="242.20" y2="561.80" stroke="#1c1c1c" stroke-width="0.9"/>
<text x="242.20" y="576.90" font-size="8.3" text-anchor="middle" font-style="normal" >40</text>
<polyline points="49.00,514.00 68.32,525.60 97.30,543.40 126.28,483.90 164.92,522.70 222.88,538.10" fill="none" stroke="#1c1c1c" stroke-width="1.05"/>
<polyline points="49.00,526.10 68.32,525.80 97.30,527.00 126.28,524.20 164.92,507.60 222.88,510.90" fill="none" stroke="#1c1c1c" stroke-width="1.05"/>
<polyline points="49.00,530.60 68.32,533.80 97.30,530.10 126.28,524.20" fill="none" stroke="#1c1c1c" stroke-width="1.05"/>
<polyline points="68.32,529.20 97.30,530.10" fill="none" stroke="#1c1c1c" stroke-width="1.05"/>
<polyline points="49.00,544.90 68.32,555.00 97.30,555.30 126.28,547.90" fill="none" stroke="#1c1c1c" stroke-width="1.05"/>
<polyline points="49.00,559.50 68.32,512.00 97.30,555.30 126.28,514.90 164.92,536.40 222.88,548.50" fill="none" stroke="#1c1c1c" stroke-width="1.05"/>
<polyline points="97.30,555.30 126.28,524.20 164.92,564.00 222.88,545.20" fill="none" stroke="#1c1c1c" stroke-width="1.05"/>
<path d="M49.00,511.96L51.03,514.00L49.00,516.03L46.97,514.00Z" fill="#fff" stroke="#1c1c1c" stroke-width="1.0"/>
<rect x="47.15" y="524.25" width="3.7" height="3.7" fill="#fff" stroke="#1c1c1c" stroke-width="1.0"/>
<circle cx="49.00" cy="530.60" r="1.85" fill="#fff" stroke="#1c1c1c" stroke-width="1.0"/>
<path d="M49.00,542.87L51.03,546.53L46.97,546.53Z" fill="#fff" stroke="#1c1c1c" stroke-width="1.0"/>
<path d="M49.00,561.53L51.03,557.87L46.97,557.87Z" fill="#fff" stroke="#1c1c1c" stroke-width="1.0"/>
<path d="M68.32,514.03L70.35,510.37L66.28,510.37Z" fill="#fff" stroke="#1c1c1c" stroke-width="1.0"/>
<rect x="66.47" y="523.95" width="3.7" height="3.7" fill="#fff" stroke="#1c1c1c" stroke-width="1.0"/>
<circle cx="68.32" cy="529.20" r="1.85" fill="#fff" stroke="#1c1c1c" stroke-width="1.0"/>
<circle cx="68.32" cy="533.80" r="1.85" fill="#fff" stroke="#1c1c1c" stroke-width="1.0"/>
<path d="M68.32,552.97L70.35,556.63L66.28,556.63Z" fill="#fff" stroke="#1c1c1c" stroke-width="1.0"/>
<circle cx="97.30" cy="530.10" r="1.85" fill="#fff" stroke="#1c1c1c" stroke-width="1.0"/>
<rect x="95.45" y="541.55" width="3.7" height="3.7" fill="#fff" stroke="#1c1c1c" stroke-width="1.0"/>
<circle cx="97.30" cy="555.30" r="1.85" fill="#1c1c1c" stroke="#1c1c1c" stroke-width="1.0"/>
<rect x="124.43" y="482.05" width="3.7" height="3.7" fill="#fff" stroke="#1c1c1c" stroke-width="1.0"/>
<path d="M126.28,512.87L128.31,516.53L124.25,516.53Z" fill="#fff" stroke="#1c1c1c" stroke-width="1.0"/>
<circle cx="126.28" cy="524.20" r="1.85" fill="#fff" stroke="#1c1c1c" stroke-width="1.0"/>
<path d="M126.28,549.93L128.31,546.27L124.25,546.27Z" fill="#fff" stroke="#1c1c1c" stroke-width="1.0"/>
<path d="M164.92,505.56L166.96,507.60L164.92,509.64L162.89,507.60Z" fill="#fff" stroke="#1c1c1c" stroke-width="1.0"/>
<rect x="163.07" y="520.85" width="3.7" height="3.7" fill="#fff" stroke="#1c1c1c" stroke-width="1.0"/>
<path d="M164.92,534.37L166.96,538.03L162.89,538.03Z" fill="#fff" stroke="#1c1c1c" stroke-width="1.0"/>
<circle cx="164.92" cy="564.00" r="1.85" fill="#fff" stroke="#1c1c1c" stroke-width="1.0"/>
<path d="M222.88,508.86L224.91,510.90L222.88,512.93L220.84,510.90Z" fill="#fff" stroke="#1c1c1c" stroke-width="1.0"/>
<rect x="221.03" y="536.25" width="3.7" height="3.7" fill="#fff" stroke="#1c1c1c" stroke-width="1.0"/>
<path d="M222.88,543.17L224.91,546.83L220.84,546.83Z" fill="#fff" stroke="#1c1c1c" stroke-width="1.0"/>
<circle cx="222.88" cy="548.50" r="1.85" fill="#1c1c1c" stroke="#1c1c1c" stroke-width="1.0"/>
<text x="96.30" y="443.30" font-size="9.9" text-anchor="start" font-style="italic" >Endothelial microparticles (CD62E)</text>
<text x="140.60" y="593.30" font-size="8.4" text-anchor="middle" font-style="normal" word-spacing="1.1">time (hours)</text>
<text transform="translate(6.90,501.00) rotate(-90)" font-size="8.45" text-anchor="middle">microparticle number (x 10<tspan font-size="5.5" dy="-3">9</tspan><tspan dy="3">/L)</tspan></text>
</svg>
</body></html>
